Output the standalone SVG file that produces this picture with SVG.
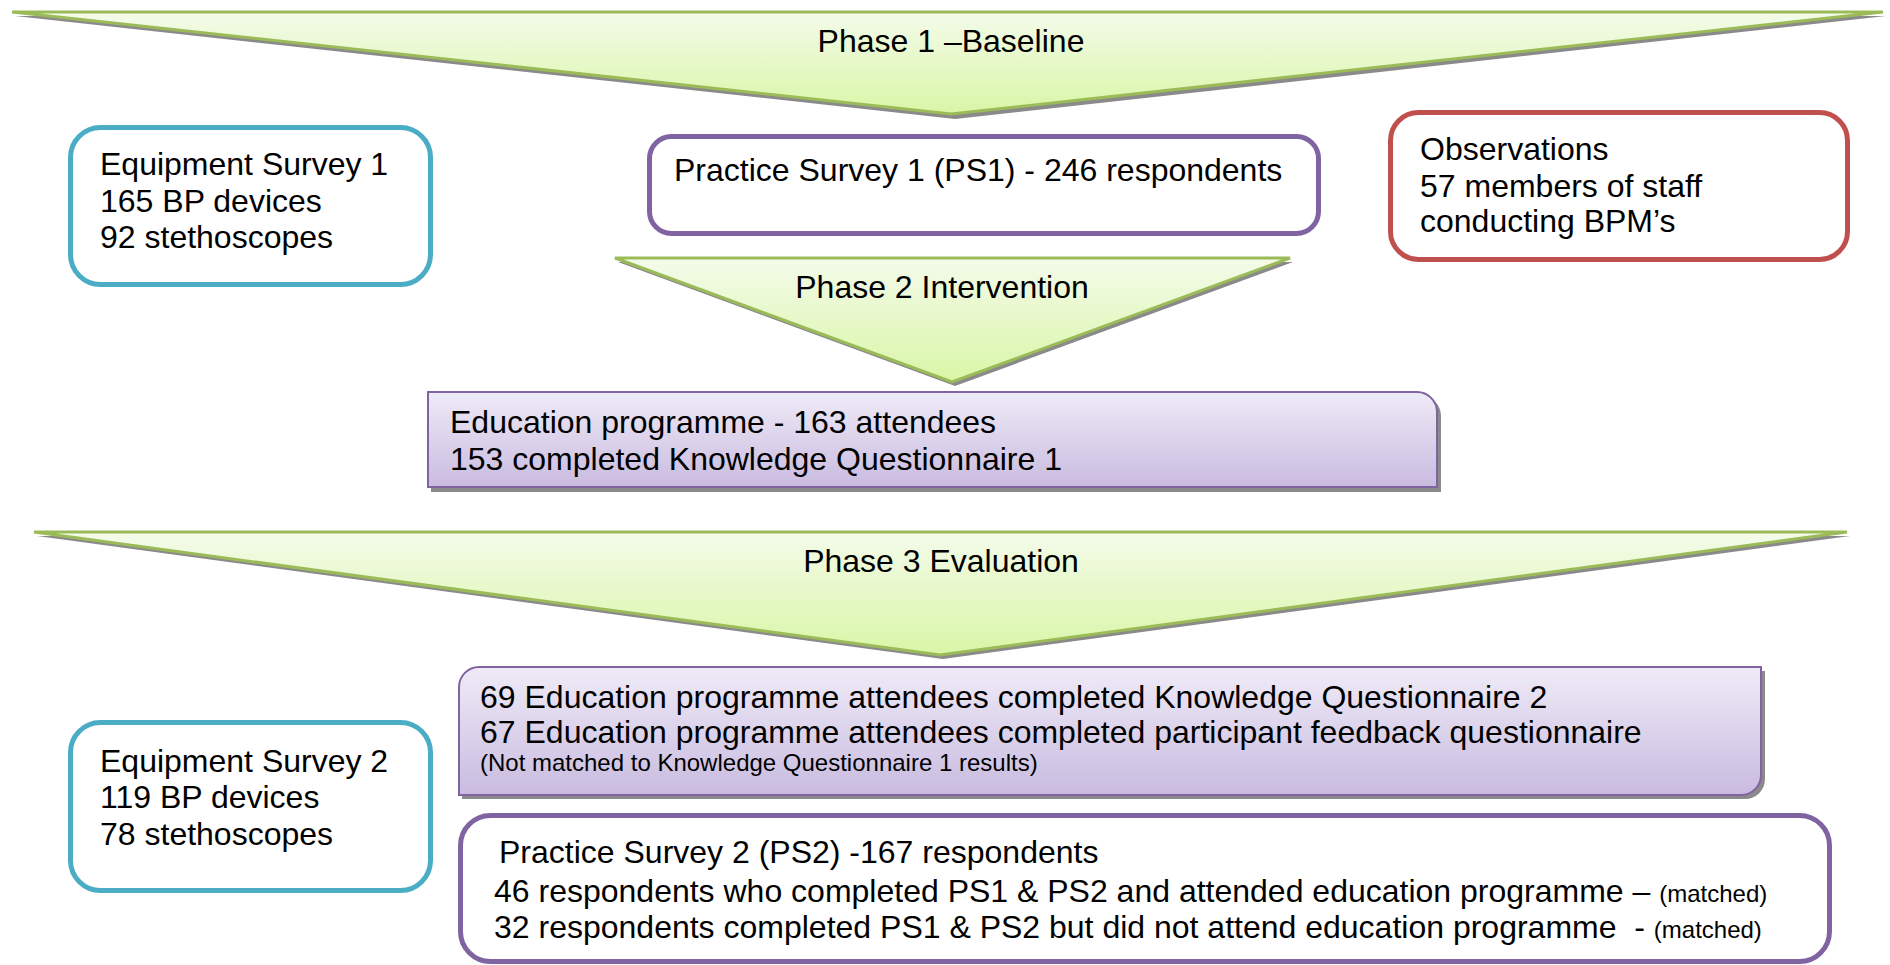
<svg xmlns="http://www.w3.org/2000/svg" width="1890" height="965" viewBox="0 0 1890 965">
<defs>
<linearGradient id="gGreen" x1="0" y1="0" x2="0" y2="1">
<stop offset="0" stop-color="#F4FBEA"/>
<stop offset="1" stop-color="#D9F6A6"/>
</linearGradient>
<linearGradient id="gLav" x1="0" y1="0" x2="0" y2="1">
<stop offset="0" stop-color="#EFEBF7"/>
<stop offset="1" stop-color="#C9BBE0"/>
</linearGradient>
<style>
text{font-family:"Liberation Sans",Arial,sans-serif;fill:#000;}
.t{font-size:32px;}
.s{font-size:24px;}
.tri{fill:url(#gGreen);stroke:#9BBB59;stroke-width:3;stroke-linejoin:miter;}
.sh{fill:#8A8A8A;}
.lav{fill:url(#gLav);stroke:#8064A2;stroke-width:2;}
.box{fill:#fff;stroke-width:5;}
.blue{stroke:#4BACC6;}
.purple{stroke:#8064A2;}
.red{stroke:#C0504D;}
</style>
</defs>

<g id="phase1">
<polygon class="sh" points="15,16 1886,16 955,119"/>
<polygon class="tri" points="12,12 1883,12 951,114"/>
<text class="t" x="951" y="52" text-anchor="middle">Phase 1 –Baseline</text>
</g>

<g id="equip1">
<rect class="box blue" x="70.5" y="127.5" width="360" height="157" rx="30"/>
<text class="t" x="100" y="175">Equipment Survey 1</text>
<text class="t" x="100" y="212">165 BP devices</text>
<text class="t" x="100" y="248">92 stethoscopes</text>
</g>

<g id="practice1">
<rect class="box purple" x="649.5" y="136.5" width="669" height="97" rx="22"/>
<text class="t" x="674" y="181">Practice Survey 1 (PS1) - 246 respondents</text>
</g>

<g id="observations">
<rect class="box red" x="1390.5" y="112.5" width="457" height="147" rx="28"/>
<text class="t" x="1420" y="160">Observations</text>
<text class="t" x="1420" y="197">57 members of staff</text>
<text class="t" x="1420" y="232">conducting BPM’s</text>
</g>

<g id="phase2">
<polygon class="sh" points="618,262 1293,262 955,386"/>
<polygon class="tri" points="615,258 1290,258 952,382"/>
<text class="t" x="942" y="298" text-anchor="middle">Phase 2 Intervention</text>
</g>

<g id="education">
<path class="sh" d="M431,396 H1421 A20,20 0 0 1 1441,416 V492 H431 Z"/>
<path class="lav" d="M428,392 H1417 A20,20 0 0 1 1437,412 V487 H428 Z"/>
<text class="t" x="450" y="433">Education programme - 163 attendees</text>
<text class="t" x="450" y="470">153 completed Knowledge Questionnaire 1</text>
</g>

<g id="phase3">
<polygon class="sh" points="37,536 1850,536 943,659"/>
<polygon class="tri" points="34,532 1847,532 940,655"/>
<text class="t" x="941" y="572" text-anchor="middle">Phase 3 Evaluation</text>
</g>

<g id="evaluation">
<path class="sh" d="M482,671 H1765 V779 A20,20 0 0 1 1745,799 H462 V691 A20,20 0 0 1 482,671 Z"/>
<path class="lav" d="M479,667 H1761 V775 A20,20 0 0 1 1741,795 H459 V687 A20,20 0 0 1 479,667 Z"/>
<text class="t" x="480" y="708">69 Education programme attendees completed Knowledge Questionnaire 2</text>
<text class="t" x="480" y="743">67 Education programme attendees completed participant feedback questionnaire</text>
<text class="s" x="480" y="771">(Not matched to Knowledge Questionnaire 1 results)</text>
</g>

<g id="equip2">
<rect class="box blue" x="70.5" y="722.5" width="360" height="168" rx="30"/>
<text class="t" x="100" y="772">Equipment Survey 2</text>
<text class="t" x="100" y="808">119 BP devices</text>
<text class="t" x="100" y="845">78 stethoscopes</text>
</g>

<g id="practice2">
<rect class="box purple" x="460.5" y="815.5" width="1369" height="146" rx="30"/>
<text class="t" x="499" y="863">Practice Survey 2 (PS2) -167 respondents</text>
<text x="494" y="902" xml:space="preserve"><tspan class="t">46 respondents who completed PS1 &amp; PS2 and attended education programme – </tspan><tspan class="s">(matched)</tspan></text>
<text x="494" y="938" xml:space="preserve"><tspan class="t">32 respondents completed PS1 &amp; PS2 but did not attend education programme  - </tspan><tspan class="s">(matched)</tspan></text>
</g>

<g id="connectors"></g>
</svg>
